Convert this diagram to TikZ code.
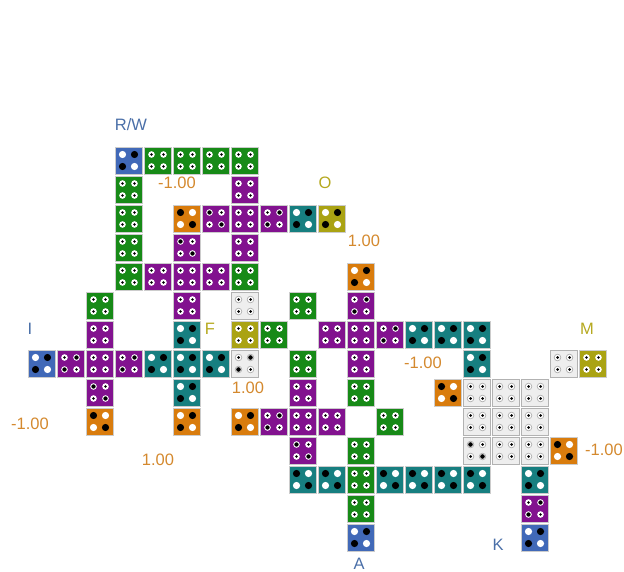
\documentclass[tikz,border=0pt]{standalone}
\usepackage{fontspec}
\setmainfont{Liberation Sans}
\definecolor{tgreen}{HTML}{178A17}
\definecolor{tpurple}{HTML}{82128F}
\definecolor{tteal}{HTML}{177F80}
\definecolor{torange}{HTML}{D97C0D}
\definecolor{tblue}{HTML}{4169B8}
\definecolor{tyellow}{HTML}{AAA313}
\definecolor{twhite}{HTML}{EEEEEE}
\definecolor{lorange}{HTML}{D4892E}
\definecolor{lblue}{HTML}{4A6FA8}
\definecolor{lolive}{HTML}{B5A81E}
\newcommand\mdW[2]{\fill[white] (#1,#2) circle (3.6pt);}
\newcommand\mdK[2]{\fill[black] (#1,#2) circle (3.6pt);}
\newcommand\mda[2]{\fill[white] (#1,#2) circle (3.3pt); \fill[black] (#1,#2) circle (1.4pt);}
\newcommand\mdb[2]{\fill[white] (#1,#2) circle (3.3pt); \fill[black] (#1,#2) circle (2.2pt);}
\newcommand\mdc[2]{\filldraw[fill=white,draw=gray!70,line width=0.6pt] (#1,#2) circle (3.3pt); \fill[black] (#1,#2) circle (1.5pt);}
\newcommand\mdd[2]{\filldraw[fill=white,draw=gray!70,line width=0.6pt] (#1,#2) circle (3.3pt); \fill[black] (#1,#2) circle (2.3pt);}
\newcommand\tl[7]{%
 \pgfmathsetmacro\cx{41.5+29*#1}\pgfmathsetmacro\cy{160.5+29*#2}%
 \pgfmathsetmacro\xl{\cx-6}\pgfmathsetmacro\xr{\cx+6}%
 \pgfmathsetmacro\yt{\cy-6}\pgfmathsetmacro\yb{\cy+6}%
 \node[tilebox,#3] (t#1-#2) at (\cx,\cy) {};
 \csname md#4\endcsname{\xl}{\yt}%
 \csname md#5\endcsname{\xr}{\yt}%
 \csname md#6\endcsname{\xl}{\yb}%
 \csname md#7\endcsname{\xr}{\yb}%
}
\begin{document}
\begin{tikzpicture}[x=1pt,y=-1pt,
  tilebox/.style={rectangle,draw=gray!40,line width=0.7pt,minimum size=27pt,inner sep=0pt},
  cG/.style={fill=tgreen}, cP/.style={fill=tpurple}, cT/.style={fill=tteal},
  cO/.style={fill=torange}, cB/.style={fill=tblue}, cY/.style={fill=tyellow},
  cW/.style={fill=twhite,draw=gray!60},
  lab/.style={inner sep=0pt,font=\fontsize{16.5}{19}\selectfont},
  num/.style={lab,text=lorange}, lb/.style={lab,text=lblue}, lo/.style={lab,text=lolive}]
\useasboundingbox (0,0) rectangle (624,572);
% row 0
\tl{3}{0}{cB}{W}{K}{K}{W}
\tl{4}{0}{cG}{a}{a}{a}{a}
\tl{5}{0}{cG}{a}{a}{a}{a}
\tl{6}{0}{cG}{a}{a}{a}{a}
\tl{7}{0}{cG}{a}{a}{a}{a}
% row 1
\tl{3}{1}{cG}{a}{a}{a}{a}
\tl{7}{1}{cP}{a}{a}{a}{a}
% row 2
\tl{3}{2}{cG}{a}{a}{a}{a}
\tl{5}{2}{cO}{K}{W}{W}{K}
\tl{6}{2}{cP}{b}{a}{a}{b}
\tl{7}{2}{cP}{a}{a}{a}{a}
\tl{8}{2}{cP}{a}{b}{b}{a}
\tl{9}{2}{cT}{W}{K}{K}{W}
\tl{10}{2}{cY}{W}{K}{K}{W}
% row 3
\tl{3}{3}{cG}{a}{a}{a}{a}
\tl{5}{3}{cP}{b}{a}{a}{b}
\tl{7}{3}{cP}{a}{a}{a}{a}
% row 4
\tl{3}{4}{cG}{a}{a}{a}{a}
\tl{4}{4}{cP}{a}{a}{a}{a}
\tl{5}{4}{cP}{a}{a}{a}{a}
\tl{6}{4}{cP}{a}{a}{a}{a}
\tl{7}{4}{cG}{a}{a}{a}{a}
\tl{11}{4}{cO}{W}{K}{K}{W}
% row 5
\tl{2}{5}{cG}{a}{a}{a}{a}
\tl{5}{5}{cP}{a}{a}{a}{a}
\tl{7}{5}{cW}{c}{c}{c}{c}
\tl{9}{5}{cG}{a}{a}{a}{a}
\tl{11}{5}{cP}{a}{b}{b}{a}
% row 6
\tl{2}{6}{cP}{a}{a}{a}{a}
\tl{5}{6}{cT}{W}{K}{K}{W}
\tl{7}{6}{cY}{a}{a}{a}{a}
\tl{8}{6}{cG}{a}{a}{a}{a}
\tl{10}{6}{cP}{a}{a}{a}{a}
\tl{11}{6}{cP}{a}{a}{a}{a}
\tl{12}{6}{cP}{a}{b}{b}{a}
\tl{13}{6}{cT}{W}{K}{K}{W}
\tl{14}{6}{cT}{W}{K}{K}{W}
\tl{15}{6}{cT}{W}{K}{K}{W}
% row 7
\tl{0}{7}{cB}{W}{K}{K}{W}
\tl{1}{7}{cP}{a}{b}{b}{a}
\tl{2}{7}{cP}{a}{a}{a}{a}
\tl{3}{7}{cP}{a}{b}{b}{a}
\tl{4}{7}{cT}{W}{K}{K}{W}
\tl{5}{7}{cT}{W}{K}{K}{W}
\tl{6}{7}{cT}{W}{K}{K}{W}
\tl{7}{7}{cW}{c}{d}{d}{c}
\tl{9}{7}{cG}{a}{a}{a}{a}
\tl{11}{7}{cP}{a}{a}{a}{a}
\tl{15}{7}{cT}{W}{K}{K}{W}
\tl{18}{7}{cW}{c}{c}{c}{c}
\tl{19}{7}{cY}{a}{a}{a}{a}
% row 8
\tl{2}{8}{cP}{b}{a}{a}{b}
\tl{5}{8}{cT}{W}{K}{K}{W}
\tl{9}{8}{cP}{a}{a}{a}{a}
\tl{11}{8}{cG}{a}{a}{a}{a}
\tl{14}{8}{cO}{K}{W}{W}{K}
\tl{15}{8}{cW}{c}{c}{c}{c}
\tl{16}{8}{cW}{c}{c}{c}{c}
\tl{17}{8}{cW}{c}{c}{c}{c}
% row 9
\tl{2}{9}{cO}{K}{W}{W}{K}
\tl{5}{9}{cO}{W}{K}{K}{W}
\tl{7}{9}{cO}{W}{K}{K}{W}
\tl{8}{9}{cP}{a}{b}{b}{a}
\tl{9}{9}{cP}{a}{a}{a}{a}
\tl{10}{9}{cP}{a}{a}{a}{a}
\tl{12}{9}{cG}{a}{a}{a}{a}
\tl{15}{9}{cW}{c}{c}{c}{c}
\tl{16}{9}{cW}{c}{c}{c}{c}
\tl{17}{9}{cW}{c}{c}{c}{c}
% row 10
\tl{9}{10}{cP}{b}{a}{a}{b}
\tl{11}{10}{cG}{a}{a}{a}{a}
\tl{15}{10}{cW}{d}{c}{c}{d}
\tl{16}{10}{cW}{c}{c}{c}{c}
\tl{17}{10}{cW}{c}{c}{c}{c}
\tl{18}{10}{cO}{K}{W}{W}{K}
% row 11
\tl{9}{11}{cT}{K}{W}{W}{K}
\tl{10}{11}{cT}{K}{W}{W}{K}
\tl{11}{11}{cG}{a}{a}{a}{a}
\tl{12}{11}{cT}{K}{W}{W}{K}
\tl{13}{11}{cT}{K}{W}{W}{K}
\tl{14}{11}{cT}{K}{W}{W}{K}
\tl{15}{11}{cT}{K}{W}{W}{K}
\tl{17}{11}{cT}{W}{K}{K}{W}
% row 12
\tl{11}{12}{cG}{a}{a}{a}{a}
\tl{17}{12}{cP}{a}{b}{b}{a}
% row 13
\tl{11}{13}{cB}{W}{K}{K}{W}
\tl{17}{13}{cB}{W}{K}{K}{W}
% labels
\node[lb] (lRW) at (131,125) {R/W};
\node[num] (n1) at (177,183) {-1.00};
\node[lo] (lO) at (325,183) {O};
\node[num] (n2) at (364,241) {1.00};
\node[lb] (lI) at (30,329) {I};
\node[lo] (lF) at (210,329) {F};
\node[lo] (lM) at (587,329) {M};
\node[num] (n3) at (423,363) {-1.00};
\node[num] (n4) at (248,388) {1.00};
\node[num] (n5) at (30,424) {-1.00};
\node[num] (n6) at (158,460) {1.00};
\node[num] (n7) at (604,450) {-1.00};
\node[lb] (lA) at (359,564) {A};
\node[lb] (lK) at (498,545) {K};
\end{tikzpicture}
\end{document}
